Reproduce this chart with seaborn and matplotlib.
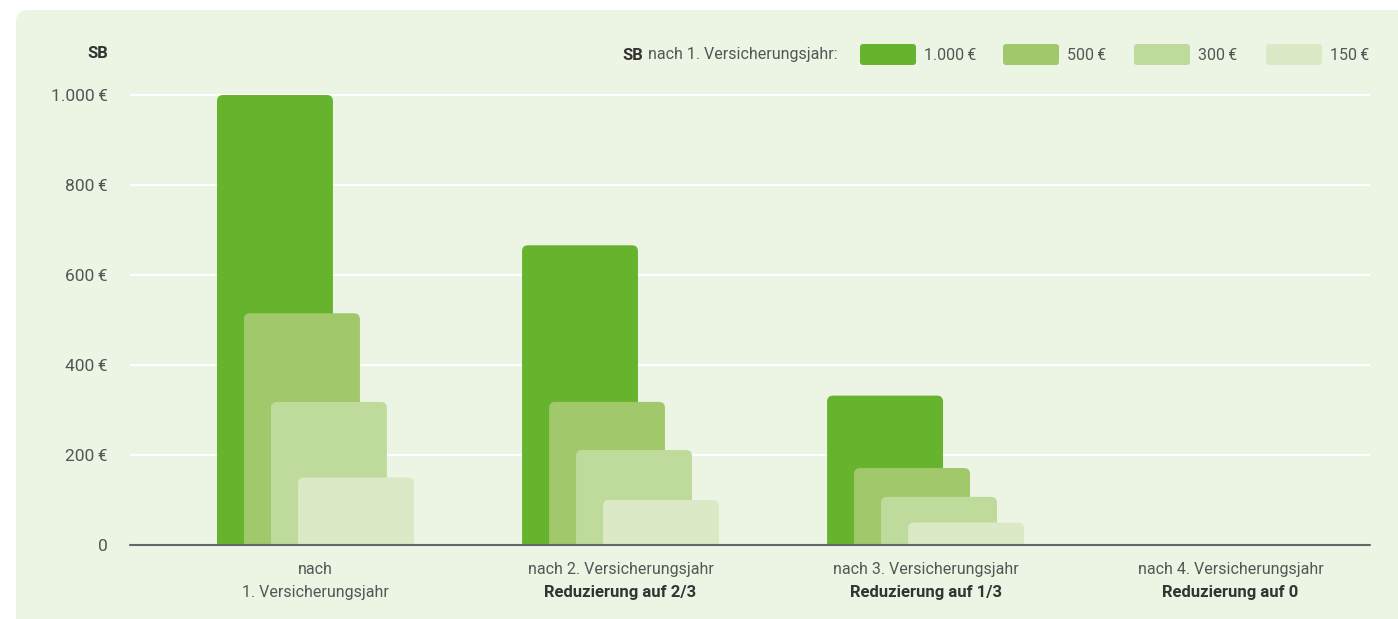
import matplotlib.pyplot as plt
import pandas as pd
import seaborn as sns
from matplotlib.patches import FancyBboxPatch
from matplotlib.transforms import IdentityTransform

# data
groups = [0, 1, 2, 3]
series = ["1.000\u2009€", "500\u2009€", "300\u2009€", "150\u2009€"]
values_1000 = [1000, 666, 332, 0]
values_500 = [515, 318, 171, 0]
values_300 = [318, 211, 107, 0]
values_150 = [150, 100, 50, 0]
colors = ["#66b32e", "#a1c96b", "#bfdb9c", "#dbe9c6"]
label_top = ["nach", "nach 2. Versicherungsjahr", "nach 3. Versicherungsjahr",
             "nach 4. Versicherungsjahr"]
label_bottom = ["1. Versicherungsjahr", "Reduzierung auf 2/3",
                "Reduzierung auf 1/3", "Reduzierung auf 0"]
label_bottom_bold = [False, True, True, True]
yticks = [0, 200, 400, 600, 800, 1000]
yticklabels = ["0", "200\u2009€", "400\u2009€", "600\u2009€", "800\u2009€", "1.000\u2009€"]

rows = []
for k, vals in enumerate([values_1000, values_500, values_300, values_150]):
    for g, v in zip(groups, vals):
        rows.append({"group": g, "series": series[k], "value": v,
                     "xpos": g + (k - 1.5) * 0.0885})
df = pd.DataFrame(rows)

sns.set_style("white")
plt.rcParams["font.family"] = ["Roboto", "DejaVu Sans"]

W, H = 1398, 619
fig = plt.figure(figsize=(W / 100, H / 100), dpi=100, facecolor="white")

# light green panel with rounded top-left corner
panel = FancyBboxPatch((16, -30), W, H - 10 + 30,
                       boxstyle="round,pad=0,rounding_size=12",
                       transform=IdentityTransform(), facecolor="#ecf4e4",
                       edgecolor="none", zorder=-10)
fig.add_artist(panel)

ymax = 1010
ax = fig.add_axes([130 / W, (H - 545) / H, (1370 - 130) / W, (545 - 90.5) / H])
ax.set_facecolor("none")

for k, name in enumerate(series):
    sub = df[df["series"] == name]
    sns.barplot(data=sub, x="xpos", y="value", native_scale=True, width=0.38,
                color=colors[k], saturation=1, ax=ax, zorder=2 + k)

ax.set_xlim(-0.608, 3.457)
ax.set_ylim(0, ymax)

# replace plain bars with top-rounded ones
px_x = (1370 - 130) / (3.457 + 0.608)
px_y = (545 - 90.5) / ymax
r = 6 / px_x
aspect = (6 / px_y) / r
for bar in list(ax.patches):
    x, w, h = bar.get_x(), bar.get_width(), bar.get_height()
    if h > 0:
        fb = FancyBboxPatch((x, -40), w, h + 40,
                            boxstyle=f"round,pad=0,rounding_size={r}",
                            mutation_aspect=aspect, facecolor=bar.get_facecolor(),
                            edgecolor="none", zorder=bar.get_zorder())
        ax.add_patch(fb)
    bar.remove()

for y in yticks[1:]:
    ax.axhline(y, color="white", linewidth=1.5, zorder=1)
ax.axhline(0, color="#666666", linewidth=1.5, zorder=10, clip_on=False)

sns.despine(ax=ax, left=True, bottom=True)
ax.set_yticks(yticks)
ax.set_yticklabels(yticklabels)
ax.tick_params(axis="y", length=0, pad=16, labelsize=12.5, labelcolor="#555555")
ax.set_xticks(groups)
ax.set_xticklabels(label_top)
ax.tick_params(axis="x", length=0, pad=12, labelsize=11.5, labelcolor="#555555")
ax.set_xlabel("")
ax.set_ylabel("")
for g, txt, bold in zip(groups, label_bottom, label_bottom_bold):
    ax.text(g, -48 / px_y, txt, ha="center", va="center",
            fontsize=12 if bold else 11.5,
            fontweight="bold" if bold else "normal",
            color="#333333" if bold else "#555555")

# axis title
fig.text(108 / W, 1 - 53 / H, "SB", ha="right", va="center", fontsize=12,
         fontweight="bold", color="#333333")

# legend
lt = fig.text(837 / W, 1 - 55 / H, "nach 1. Versicherungsjahr:", ha="right",
              va="center", fontsize=11.5, color="#555555")
fig.canvas.draw()
left_px = lt.get_window_extent().x0
fig.text((left_px - 4) / W, 1 - 55 / H, "SB", ha="right", va="center",
         fontsize=12, fontweight="bold", color="#333333")
leg_x = [860, 1003, 1134, 1266]
for k, name in enumerate(series):
    p = FancyBboxPatch((leg_x[k], H - 65), 56, 21,
                       boxstyle="round,pad=0,rounding_size=3",
                       transform=IdentityTransform(), facecolor=colors[k],
                       edgecolor="none")
    fig.add_artist(p)
    fig.text((leg_x[k] + 64) / W, 1 - 55 / H, name, ha="left", va="center",
             fontsize=11.5, color="#555555")

fig.savefig("out.png", dpi=100)
